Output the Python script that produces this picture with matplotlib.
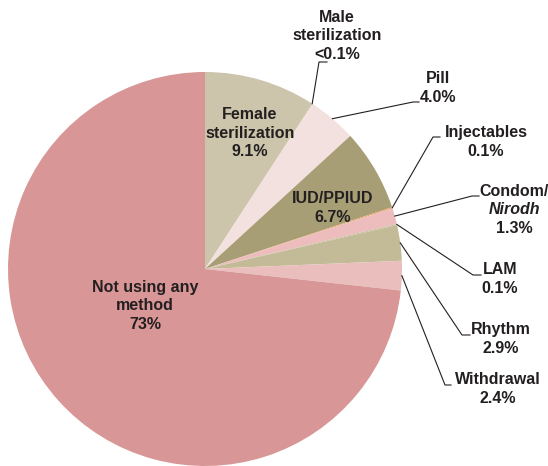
import numpy as np
import matplotlib
matplotlib.use("Agg")
import matplotlib.pyplot as plt

plt.rcParams['font.family'] = ['Liberation Sans', 'DejaVu Sans']

# data (clockwise from 12 o'clock)
methods = ['Female\nsterilization', 'Male\nsterilization', 'Pill', 'IUD/PPIUD',
           'Injectables', 'Condom/\nNirodh', 'LAM', 'Rhythm', 'Withdrawal',
           'Not using any\nmethod']
shares = [9.1, 0.05, 4.0, 6.7, 0.1, 1.3, 0.1, 2.9, 2.4, 73.0]
share_labels = ['9.1%', '<0.1%', '4.0%', '6.7%', '0.1%', '1.3%', '0.1%',
                '2.9%', '2.4%', '73%']

colors = ['#CCC5AB', '#B9B08C', '#F3E1E0', '#A79E75', '#E9A56A', '#EDBDBD',
          '#C9C09C', '#C3BB98', '#EBBEBE', '#D99696']
txt = '#231F20'

W, H = 548, 466
cx, cy, r = 205, 269, 197   # pie centre / radius in pixels
ls = 1.28
fs = 11.5

fig = plt.figure(figsize=(W / 100, H / 100), dpi=100)
ax = fig.add_axes([(cx - r) / W, (H - cy - r) / H, 2 * r / W, 2 * r / H])

wedges, _ = ax.pie(shares, colors=colors, startangle=90, counterclock=False,
                   radius=1, wedgeprops=dict(linewidth=0))
ax.set_xlim(-1, 1)
ax.set_ylim(-1, 1)
ax.set_aspect('equal')
ax.axis('off')


def px(x, y):
    return (x - cx) / r, (cy - y) / r


# labels inside the pie
inside = {0: (250, 133), 3: (333, 208), 9: (145, 306)}
for i, (x, y) in inside.items():
    tx, ty = px(x, y)
    ax.text(tx, ty, methods[i] + '\n' + share_labels[i], ha='center', va='center',
            fontsize=fs, fontweight='bold', color=txt, linespacing=ls)

# labels outside with leader lines: (elbow x, elbow y, end x, text x, text y)
outside = {
    1: (319, 62, 327, 337, 36),
    2: (413, 102, 419, 438, 88),
    4: (433, 137, 440, 486, 142),
    5: (472, 196, 479, 514, 210),
    6: (473, 275, 481, 500, 279),
    7: (462, 335, 470, 501, 339),
    8: (445, 385, 451, 498, 389),
}
for i, (ex, ey, hx, tx, ty) in outside.items():
    w = wedges[i]
    ang = np.deg2rad((w.theta1 + w.theta2) / 2)
    ax0, ay0 = np.cos(ang), np.sin(ang)
    x1, y1 = px(ex, ey)
    x2, _ = px(hx, ey)
    ax.plot([ax0, x1, x2], [ay0, y1, y1], color=txt, lw=0.8, clip_on=False)
    if i == 5:
        # three lines, middle one in italic
        for k, (s, style) in enumerate([('Condom/', 'normal'), ('Nirodh', 'italic'),
                                        (share_labels[i], 'normal')]):
            lx, ly = px(tx, ty + (k - 1) * 18.5)
            ax.text(lx, ly, s, ha='center', va='center', fontsize=fs,
                    fontweight='bold', fontstyle=style, color=txt, clip_on=False)
    else:
        lx, ly = px(tx, ty)
        ax.text(lx, ly, methods[i] + '\n' + share_labels[i], ha='center', va='center',
                fontsize=fs, fontweight='bold', color=txt, linespacing=ls,
                clip_on=False)

fig.savefig('out.png', dpi=100)
